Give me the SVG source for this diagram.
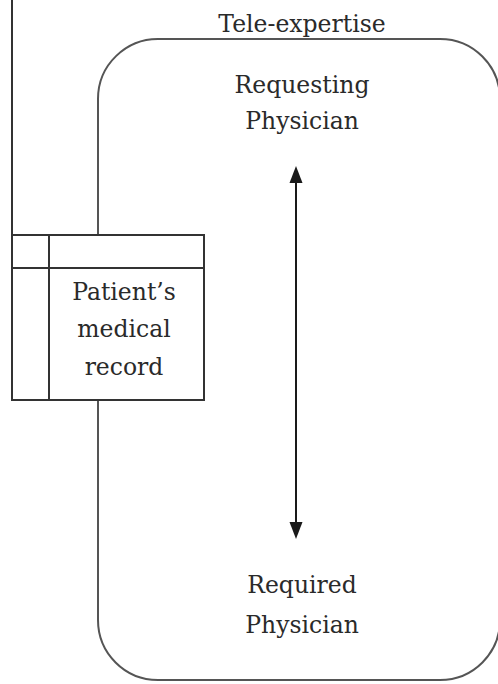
<svg xmlns="http://www.w3.org/2000/svg" width="498" height="684" viewBox="0 0 498 684">
<style>
.t{font-family:"DejaVu Serif","Liberation Serif",serif;font-size:23.5px;fill:#2a2a2a;text-anchor:middle}
.frame{fill:none;stroke:#555;stroke-width:2}
.tbl{fill:#fff;stroke:#333;stroke-width:2}
.ln{stroke:#333;stroke-width:2;fill:none}
.head{fill:#1a1a1a}
</style>
<g id="tele-expertise">
<path class="frame" d="M160,39 H440 A60,60 0 0 1 500,99 V620 A60,60 0 0 1 440,680 H158 A60,60 0 0 1 98,620 V99 A60,60 0 0 1 160,39 Z"/>
<text class="t" x="302" y="32">Tele-expertise</text>
</g>
<g id="requesting">
<text class="t" x="302" y="93">Requesting</text>
<text class="t" x="302" y="129">Physician</text>
</g>
<g id="required">
<text class="t" x="302" y="593">Required</text>
<text class="t" x="302" y="633">Physician</text>
</g>
<g id="connectors">
<line class="ln" x1="12" y1="0" x2="12" y2="235"/>
<line x1="296" y1="172" x2="296" y2="533" stroke="#1a1a1a" stroke-width="2"/>
<path class="head" d="M289.5,183 L296,166 L302.5,183 Z"/>
<path class="head" d="M289.5,522 L296,539 L302.5,522 Z"/>
</g>
<g id="record">
<rect class="tbl" x="12" y="235" width="192" height="165"/>
<line class="ln" x1="49" y1="235" x2="49" y2="400"/>
<line class="ln" x1="12" y1="268" x2="204" y2="268"/>
<text class="t" x="124" y="300">Patient’s</text>
<text class="t" x="124" y="337">medical</text>
<text class="t" x="124" y="375">record</text>
</g>
</svg>
